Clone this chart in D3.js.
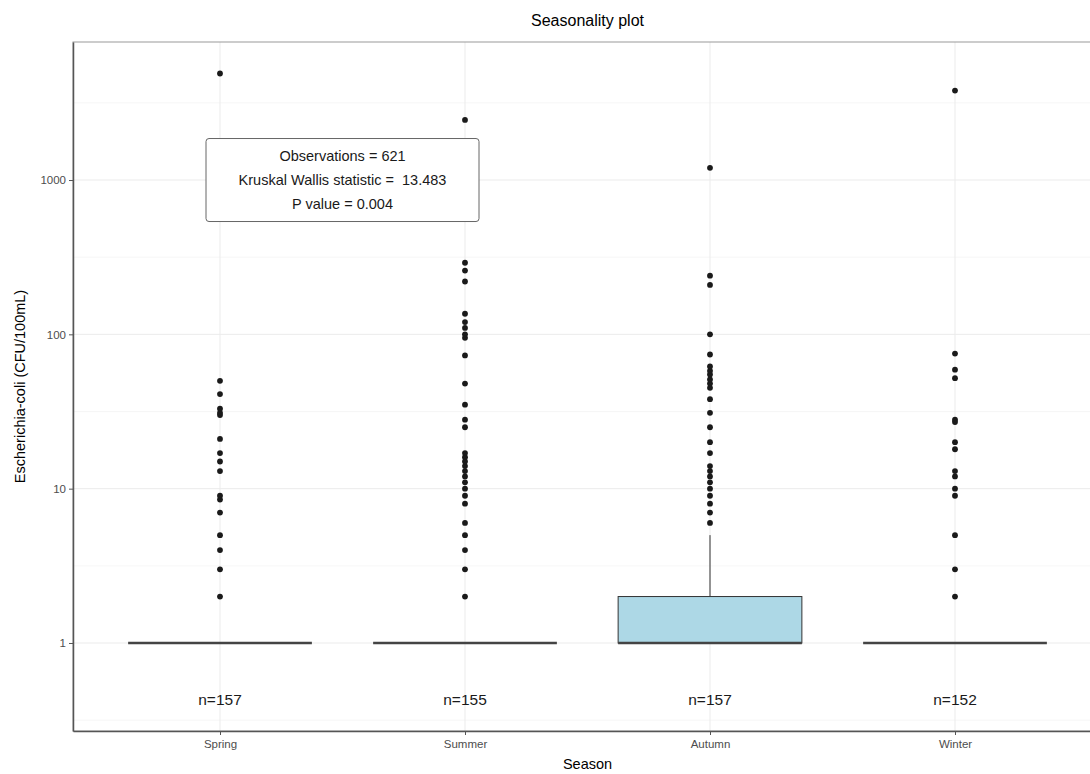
<!DOCTYPE html>
<html lang="en">
<head>
  <meta charset="UTF-8">
  <title>Seasonality plot</title>
  <script src="https://d3js.org/d3.v7.min.js"></script>
  <style>
    body { margin: 0; background: #fff; font-family: "Liberation Sans", Arial, sans-serif; }
    svg { display: block; }
    .grid-major { stroke: #ebebeb; stroke-width: 1; }
    .grid-minor { stroke: #f4f4f4; stroke-width: 0.8; }
    .tick text { fill: #4d4d4d; font-size: 11.5px; }
    .tick line { stroke: #555; }
    .outlier { fill: #1a1a1a; }
  </style>
</head>
<body>
  <svg width="1090" height="774"></svg>

  <script>
    // seasons and sample counts
    const seasons = ["Spring", "Summer", "Autumn", "Winter"];
    const counts  = [157, 155, 157, 152];

    // box statistics (CFU/100mL)
    const q1s       = [1, 1, 1, 1];
    const medians   = [1, 1, 1, 1];
    const q3s       = [1, 1, 2, 1];
    const whiskLow  = [1, 1, 1, 1];
    const whiskHigh = [1, 1, 5, 1];
    const boxFills  = ["#ffffff", "#ffffff", "#add8e6", "#ffffff"];

    // outliers per season
    const springOut = [2, 3, 4, 5, 7, 8.5, 9, 13, 15, 17, 21, 30, 31, 33, 41, 50, 4900];
    const summerOut = [2, 3, 4, 5, 6, 8, 9, 10, 11, 12, 13, 14, 15, 16, 17, 25, 28, 35, 48, 73,
                       95, 100, 110, 120, 136, 220, 259, 291, 2450];
    const autumnOut = [6, 7, 8, 9, 10, 11, 12, 13, 14, 17, 20, 25, 31, 38, 45, 48, 51, 55, 58, 62,
                       74, 100, 209, 240, 1200];
    const winterOut = [2, 3, 5, 9, 10, 12, 13, 18, 20, 27, 28, 52, 59, 75, 3800];
    const outliers  = [springOut, summerOut, autumnOut, winterOut];

    const yTicks   = [1, 10, 100, 1000];
    const yMinor   = [0.316, 3.16, 31.6, 316, 3162];
    const yLimits  = [0.269, 7840];

    const statLines = ["Observations = 621", "Kruskal Wallis statistic =  13.483", "P value = 0.004"];

    const svg = d3.select("svg");
    const margin = { top: 42, left: 73 },
          panelRight = 1102, panelBottom = 731;

    // discrete x with ggplot-style 0.6 expansion
    const x = d3.scaleLinear()
      .domain([0.4, seasons.length + 0.6])
      .range([margin.left, panelRight]);
    const y = d3.scaleLog()
      .domain(yLimits)
      .range([panelBottom, margin.top]);

    const boxW = (x(1) - x(0)) * 0.75;

    svg.append("defs").append("clipPath").attr("id", "panel")
      .append("rect")
      .attr("x", margin.left).attr("y", margin.top)
      .attr("width", panelRight - margin.left).attr("height", panelBottom - margin.top);

    const panel = svg.append("g").attr("clip-path", "url(#panel)");

    // grid
    panel.selectAll(".grid-minor")
      .data(yMinor)
      .join("line")
        .attr("class", "grid-minor")
        .attr("x1", margin.left).attr("x2", panelRight)
        .attr("y1", d => y(d)).attr("y2", d => y(d));
    panel.selectAll(".grid-major.h")
      .data(yTicks)
      .join("line")
        .attr("class", "grid-major h")
        .attr("x1", margin.left).attr("x2", panelRight)
        .attr("y1", d => y(d)).attr("y2", d => y(d));
    panel.selectAll(".grid-major.v")
      .data(seasons)
      .join("line")
        .attr("class", "grid-major v")
        .attr("x1", (d, i) => x(i + 1)).attr("x2", (d, i) => x(i + 1))
        .attr("y1", margin.top).attr("y2", panelBottom);

    // boxes
    seasons.forEach((s, i) => {
      const cx = x(i + 1);
      const g = panel.append("g");
      g.append("line")
        .attr("x1", cx).attr("x2", cx)
        .attr("y1", y(q3s[i])).attr("y2", y(whiskHigh[i]))
        .attr("stroke", "#333").attr("stroke-width", 1);
      g.append("line")
        .attr("x1", cx).attr("x2", cx)
        .attr("y1", y(q1s[i])).attr("y2", y(whiskLow[i]))
        .attr("stroke", "#333").attr("stroke-width", 1);
      g.append("rect")
        .attr("x", cx - boxW / 2).attr("width", boxW)
        .attr("y", y(q3s[i])).attr("height", y(q1s[i]) - y(q3s[i]))
        .attr("fill", boxFills[i])
        .attr("stroke", "#333").attr("stroke-width", 1);
      g.append("line")
        .attr("x1", cx - boxW / 2).attr("x2", cx + boxW / 2)
        .attr("y1", y(medians[i])).attr("y2", y(medians[i]))
        .attr("stroke", "#444").attr("stroke-width", 2.6);

      g.selectAll("circle")
        .data(outliers[i])
        .join("circle")
          .attr("class", "outlier")
          .attr("cx", cx)
          .attr("cy", d => y(d))
          .attr("r", 2.9);

      g.append("text")
        .attr("x", cx).attr("y", y(0.43))
        .attr("text-anchor", "middle").attr("dominant-baseline", "central")
        .attr("font-size", 15.5).attr("fill", "#1a1a1a")
        .text(`n=${counts[i]}`);
    });

    // statistics label
    const lab = panel.append("g");
    const lx = x(1.5), ly = y(1000);
    lab.append("rect")
      .attr("x", lx - 136.5).attr("y", ly - 41.5)
      .attr("width", 273).attr("height", 83)
      .attr("rx", 3)
      .attr("fill", "#fff").attr("stroke", "#666").attr("stroke-width", 1);
    lab.selectAll("text")
      .data(statLines)
      .join("text")
        .attr("x", lx)
        .attr("y", (d, i) => ly + (i - 1) * 24)
        .attr("text-anchor", "middle").attr("dominant-baseline", "central")
        .attr("font-size", 14.5).attr("fill", "#1a1a1a")
        .style("white-space", "pre")
        .text(d => d);

    // panel border + axes
    svg.append("rect")
      .attr("x", margin.left).attr("y", margin.top)
      .attr("width", panelRight - margin.left).attr("height", panelBottom - margin.top)
      .attr("fill", "none").attr("stroke", "#999").attr("stroke-width", 1);

    const yAxis = svg.append("g")
      .attr("transform", `translate(${margin.left},0)`)
      .call(d3.axisLeft(y).tickValues(yTicks).tickFormat(d3.format("d"))
        .tickSize(4).tickSizeOuter(0).tickPadding(3));
    yAxis.select(".domain").attr("stroke", "#555").attr("stroke-width", 1.5);

    const xAxis = svg.append("g")
      .attr("transform", `translate(0,${panelBottom})`)
      .call(d3.axisBottom(x).tickValues(d3.range(1, seasons.length + 1))
        .tickFormat(d => seasons[d - 1]).tickSize(4).tickSizeOuter(0).tickPadding(5));
    xAxis.select(".domain").attr("stroke", "#555").attr("stroke-width", 1.5);

    // titles
    svg.append("text")
      .attr("x", x((seasons.length + 1) / 2)).attr("y", 20)
      .attr("text-anchor", "middle").attr("dominant-baseline", "central")
      .attr("font-size", 16).attr("fill", "#000")
      .text("Seasonality plot");
    svg.append("text")
      .attr("x", x((seasons.length + 1) / 2)).attr("y", 764)
      .attr("text-anchor", "middle").attr("dominant-baseline", "central")
      .attr("font-size", 14.5).attr("fill", "#000")
      .text("Season");
    svg.append("text")
      .attr("transform", `translate(20,${(margin.top + panelBottom) / 2}) rotate(-90)`)
      .attr("text-anchor", "middle").attr("dominant-baseline", "central")
      .attr("font-size", 14.5).attr("fill", "#000")
      .text("Escherichia-coli (CFU/100mL)");
  </script>
</body>
</html>
